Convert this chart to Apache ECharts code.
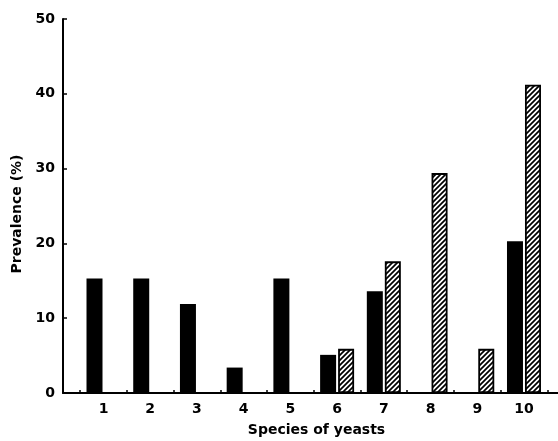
<!DOCTYPE html>
<html><head><meta charset="utf-8">
<script src="https://cdn.jsdelivr.net/npm/echarts@6/dist/echarts.min.js"></script>
<style>html,body{margin:0;padding:0;background:#fff}#c{width:558px;height:441px}</style>
</head><body><div id="c"></div>
<script>
// Data
const species = [1, 2, 3, 4, 5, 6, 7, 8, 9, 10];
const solidValues = [15.3, 15.3, 11.9, 3.4, 15.3, 5.1, 13.6, 0, 0, 20.3];
const hatchedValues = [0, 0, 0, 0, 0, 5.9, 17.6, 29.4, 5.9, 41.2];
const yTickValues = [0, 10, 20, 30, 40, 50];
const xTickBoundaries = species.map(s => s - 0.5).concat([species[species.length - 1] + 0.5]);

// hatch pattern: "/" stripes, lines x+y=0, x+y=P, x+y=2P
const P = 5;
const pc = document.createElement('canvas');
pc.width = P; pc.height = P;
const g = pc.getContext('2d');
g.fillStyle = '#fff'; g.fillRect(0, 0, P, P);
g.strokeStyle = '#000'; g.lineWidth = 1.7;
g.beginPath();
for (const k of [0, P, 2 * P]) {
  g.moveTo(k - P - 2, P + 2); g.lineTo(k + 2, -2);
}
g.stroke();

const font = 'DejaVu Sans';
const chart = echarts.init(document.getElementById('c'), null, {renderer: 'canvas'});
chart.setOption({
  animation: false,
  backgroundColor: '#fff',
  grid: {left: 63, right: 0, top: 19, bottom: 48, outerBoundsMode: 'none'},
  xAxis: {
    type: 'value', min: 0.133, max: 10.728,
    name: 'Species of yeasts', nameLocation: 'middle', nameGap: 30,
    nameTextStyle: {fontFamily: font, fontWeight: 'bold', fontSize: 14, color: '#000', padding: [0, 0, 0, 12]},
    axisLine: {show: true, lineStyle: {color: '#000', width: 2}},
    axisTick: {show: true, inside: true, length: 3, customValues: xTickBoundaries, lineStyle: {color: '#000', width: 1.5}},
    axisLabel: {customValues: species, margin: 9, fontFamily: font, fontWeight: 'bold', fontSize: 14, color: '#000'},
    splitLine: {show: false}
  },
  yAxis: {
    type: 'value', min: 0, max: 50, interval: 10,
    name: 'Prevalence (%)', nameLocation: 'middle', nameGap: 39, nameRotate: 90,
    nameTextStyle: {fontFamily: font, fontWeight: 'bold', fontSize: 14, color: '#000', padding: [0, 16, 0, 0]},
    axisLine: {show: true, lineStyle: {color: '#000', width: 2}},
    axisTick: {show: true, inside: true, length: 4, customValues: yTickValues, lineStyle: {color: '#000', width: 1.5}},
    axisLabel: {customValues: yTickValues, margin: 8, fontFamily: font, fontWeight: 'bold', fontSize: 14, color: '#000'},
    splitLine: {show: false}
  },
  series: [
    {
      type: 'bar', barWidth: 16, barGap: '12.5%',
      data: species.map((s, i) => [s, solidValues[i] === 0 ? null : solidValues[i]]),
      itemStyle: {color: '#000'}
    },
    {
      type: 'bar', barWidth: 16, barGap: '12.5%',
      data: species.map((s, i) => [s, hatchedValues[i] === 0 ? null : hatchedValues[i]]),
      itemStyle: {color: {image: pc, repeat: 'repeat'}, borderColor: '#000', borderWidth: 1.8}
    }
  ]
});
</script>
</body></html>
